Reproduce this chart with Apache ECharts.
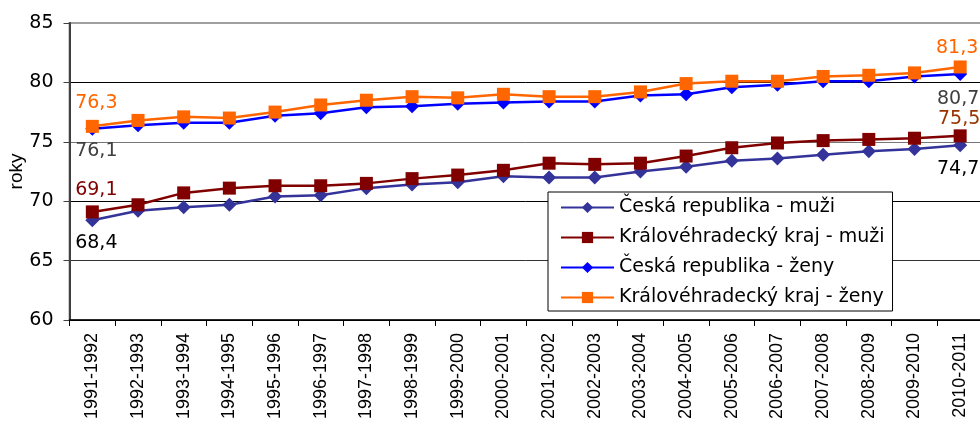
<!DOCTYPE html>
<html>
<head>
<meta charset="utf-8">
<script src="https://cdn.jsdelivr.net/npm/echarts@6/dist/echarts.min.js"></script>
<style>
html,body{margin:0;padding:0;background:#fff;}
#chart{width:980px;height:434px;}
</style>
</head>
<body>
<div id="chart"></div>
<script>
const categories = ['1991-1992','1992-1993','1993-1994','1994-1995','1995-1996','1996-1997','1997-1998','1998-1999','1999-2000','2000-2001','2001-2002','2002-2003','2003-2004','2004-2005','2005-2006','2006-2007','2007-2008','2008-2009','2009-2010','2010-2011'];
const crMuzi  = [68.4,69.2,69.5,69.7,70.4,70.5,71.1,71.4,71.6,72.1,72.0,72.0,72.5,72.9,73.4,73.6,73.9,74.2,74.4,74.7];
const khkMuzi = [69.1,69.7,70.7,71.1,71.3,71.3,71.5,71.9,72.2,72.6,73.2,73.1,73.2,73.8,74.5,74.9,75.1,75.2,75.3,75.5];
const crZeny  = [76.1,76.4,76.6,76.6,77.2,77.4,77.9,78.0,78.2,78.3,78.4,78.4,78.9,79.0,79.6,79.8,80.1,80.1,80.5,80.7];
const khkZeny = [76.3,76.8,77.1,77.0,77.5,78.1,78.5,78.8,78.7,79.0,78.8,78.8,79.2,79.9,80.1,80.1,80.5,80.6,80.8,81.3];
const seriesNames = ['Česká republika - muži','Královéhradecký kraj - muži','Česká republika - ženy','Královéhradecký kraj - ženy'];
const yTicks = {min:60, max:85, interval:5};

const FONT_H = 'DejaVu Sans, Verdana, sans-serif';
const FONT_V = 'Liberation Sans, Arial, sans-serif';
const fmt = p => p.value.toFixed(1).replace('.', ',');

function withEndLabels(values, firstLbl, lastLbl) {
  const last = values.length - 1;
  return values.map((v, i) => {
    if (i === 0) return {value: v, label: Object.assign({show: true, formatter: fmt, fontSize: 19, fontFamily: FONT_H}, firstLbl)};
    if (i === last) return {value: v, label: Object.assign({show: true, formatter: fmt, fontSize: 19, fontFamily: FONT_H}, lastLbl)};
    return v;
  });
}

function mkSeries(name, values, color, symbol, size, firstLbl, lastLbl) {
  return {
    name: name,
    type: 'line',
    data: withEndLabels(values, firstLbl, lastLbl),
    symbol: symbol,
    symbolSize: size,
    showAllSymbol: true,
    lineStyle: {color: color, width: 2.5},
    itemStyle: {color: color},
    emphasis: {disabled: true},
    animation: false
  };
}

const chart = echarts.init(document.getElementById('chart'));
chart.setOption({
  animation: false,
  textStyle: {fontFamily: FONT_H},
  grid: {left: 69.5, right: -3, top: 23, bottom: 114, containLabel: false, outerBoundsMode: 'none',
         show: true, borderColor: '#a0a0a0', borderWidth: 2, backgroundColor: 'transparent'},
  legend: {
    orient: 'vertical',
    left: 548, top: 192,
    padding: [6, 8, 4, 12],
    backgroundColor: '#fff',
    borderColor: '#000',
    borderWidth: 1,
    itemWidth: 53,
    itemHeight: 14,
    itemGap: 11,
    textStyle: {fontSize: 19, color: '#000', fontFamily: FONT_H},
    data: seriesNames
  },
  xAxis: {
    type: 'category',
    data: categories,
    boundaryGap: true,
    axisLine: {lineStyle: {color: '#000', width: 1.5}},
    axisTick: {show: true, length: 6, lineStyle: {color: '#000'}},
    axisLabel: {rotate: 90, fontSize: 18, color: '#000', margin: 13, interval: 0, fontFamily: FONT_V},
    splitLine: {show: false}
  },
  yAxis: {
    type: 'value',
    min: yTicks.min, max: yTicks.max, interval: yTicks.interval,
    name: 'roky',
    nameLocation: 'middle',
    nameGap: 43,
    nameMoveOverlap: false,
    nameTextStyle: {fontSize: 19, color: '#000', fontFamily: FONT_V},
    axisLine: {show: true, lineStyle: {color: '#404040', width: 2}},
    axisTick: {show: true, length: 6, lineStyle: {color: '#404040'}},
    axisLabel: {fontSize: 19, color: '#000', margin: 16, fontFamily: FONT_H},
    splitLine: {show: true, lineStyle: {color: ['#000', '#333', '#000', '#777', '#000', '#a0a0a0'], width: 1}}
  },
  series: [
    mkSeries(seriesNames[0], crMuzi, '#333399', 'diamond', 14,
      {position: 'bottom', distance: 6, color: '#000', offset: [4, 0]},
      {position: 'bottom', distance: 7, color: '#000', offset: [-2, 0]}),
    mkSeries(seriesNames[1], khkMuzi, '#800000', 'rect', 13,
      {position: 'top', distance: 6, color: '#800000', offset: [4, 0]},
      {position: 'top', distance: 1, color: '#993300', offset: [-1, 0]}),
    mkSeries(seriesNames[2], crZeny, '#0000ff', 'diamond', 14,
      {position: 'bottom', distance: 6, color: '#404040', offset: [4, 0]},
      {position: 'bottom', distance: 8, color: '#404040', offset: [-2, 0]}),
    mkSeries(seriesNames[3], khkZeny, '#ff6600', 'rect', 13,
      {position: 'top', distance: 7, color: '#ff6600', offset: [4, 0]},
      {position: 'top', distance: 3, color: '#ff6600', offset: [-3, 0]})
  ]
});
</script>
</body>
</html>
